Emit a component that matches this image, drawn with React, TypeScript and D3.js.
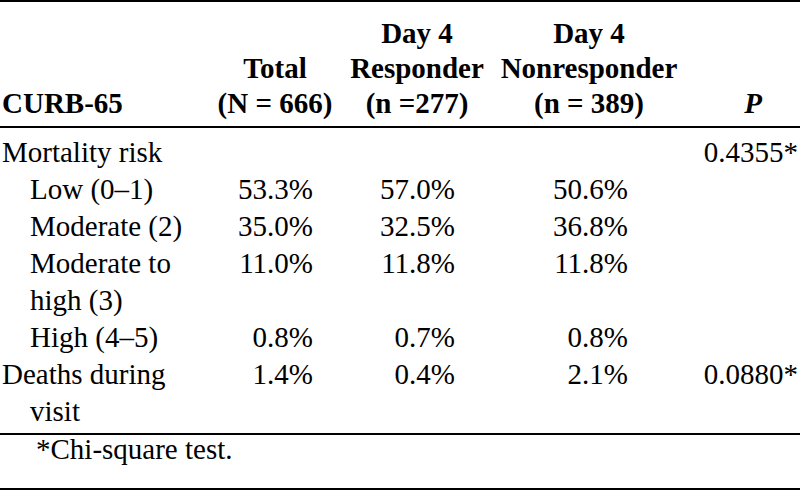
import React from "react";
import * as d3 from "d3";

const headerLines: string[][] = [
  ["", "", "Day 4", "Day 4", ""],
  ["", "Total", "Responder", "Nonresponder", ""],
  ["CURB-65", "(N = 666)", "(n =277)", "(n = 389)", "P"],
];

const rowLabels: string[][] = [
  ["Mortality risk"],
  ["Low (0–1)"],
  ["Moderate (2)"],
  ["Moderate to", "high (3)"],
  ["High (4–5)"],
  ["Deaths during", "visit"],
];
const rowIndented: boolean[] = [false, true, true, true, true, false];

const totalPct: (number | null)[] = [null, 53.3, 35.0, 11.0, 0.8, 1.4];
const responderPct: (number | null)[] = [null, 57.0, 32.5, 11.8, 0.7, 0.4];
const nonresponderPct: (number | null)[] = [null, 50.6, 36.8, 11.8, 0.8, 2.1];
const pValues: (number | null)[] = [0.4355, null, null, null, null, 0.088];

const footnote = "*Chi-square test.";

const W = 800;
const H = 491;
const FONT = "Liberation Serif, Times New Roman, serif";
const FS = 29;

export default function App() {
  const pctFmt = (v: number | null) => (v == null ? "" : d3.format(".1f")(v) + "%");
  const pFmt = (v: number | null) => (v == null ? "" : d3.format(".4f")(v) + "*");

  const colKeys = ["label", "total", "resp", "nonresp", "p"];
  const headerX = d3.scaleOrdinal<string, number>().domain(colKeys).range([2, 275, 417, 589, 753]);
  const dataRightX = d3.scaleOrdinal<string, number>().domain(colKeys).range([2, 313, 455, 628, 798]);

  const headerY = d3.scaleLinear().domain([0, 2]).range([43, 113]);
  const lineY = d3.scaleLinear().domain([0, 7]).range([162, 421]);

  const rowStart: number[] = [];
  let acc = 0;
  rowLabels.forEach((l) => {
    rowStart.push(acc);
    acc += l.length;
  });

  const rules = [1, 127, 434, 489];

  const columns: { key: string; vals: string[] }[] = [
    { key: "total", vals: totalPct.map(pctFmt) },
    { key: "resp", vals: responderPct.map(pctFmt) },
    { key: "nonresp", vals: nonresponderPct.map(pctFmt) },
    { key: "p", vals: pValues.map(pFmt) },
  ];

  return (
    <svg
      width={W}
      height={H}
      viewBox={`0 0 ${W} ${H}`}
      style={{ position: "absolute", left: 0, top: 0, display: "block", background: "#fff" }}
      fontFamily={FONT}
      fontSize={FS}
    >
      <rect x={0} y={0} width={W} height={H} fill="#fff" />
      {rules.map((y, i) => (
        <line key={i} x1={0} x2={W} y1={y} y2={y} stroke="#000" strokeWidth={2.2} />
      ))}

      {headerLines.map((line, li) =>
        line.map((t, ci) => {
          if (!t) return null;
          const key = colKeys[ci];
          const isLabel = ci === 0;
          const isP = ci === 4;
          return (
            <text
              key={`h${li}-${ci}`}
              x={headerX(key)}
              y={headerY(li)}
              textAnchor={isLabel ? "start" : "middle"}
              fontWeight="bold"
              fontStyle={isP ? "italic" : "normal"}
              fill="#000"
            >
              {t}
            </text>
          );
        })
      )}

      {rowLabels.map((lines, ri) =>
        lines.map((t, li) => (
          <text
            key={`l${ri}-${li}`}
            x={rowIndented[ri] || li > 0 ? 30 : 2}
            y={lineY(rowStart[ri] + li)}
            fill="#000"
          >
            {t}
          </text>
        ))
      )}

      {columns.map((c) =>
        c.vals.map((t, ri) =>
          t ? (
            <text
              key={`${c.key}-${ri}`}
              x={dataRightX(c.key)}
              y={lineY(rowStart[ri])}
              textAnchor="end"
              fill="#000"
            >
              {t}
            </text>
          ) : null
        )
      )}

      <text x={36} y={459} fill="#000">
        {footnote}
      </text>
    </svg>
  );
}
